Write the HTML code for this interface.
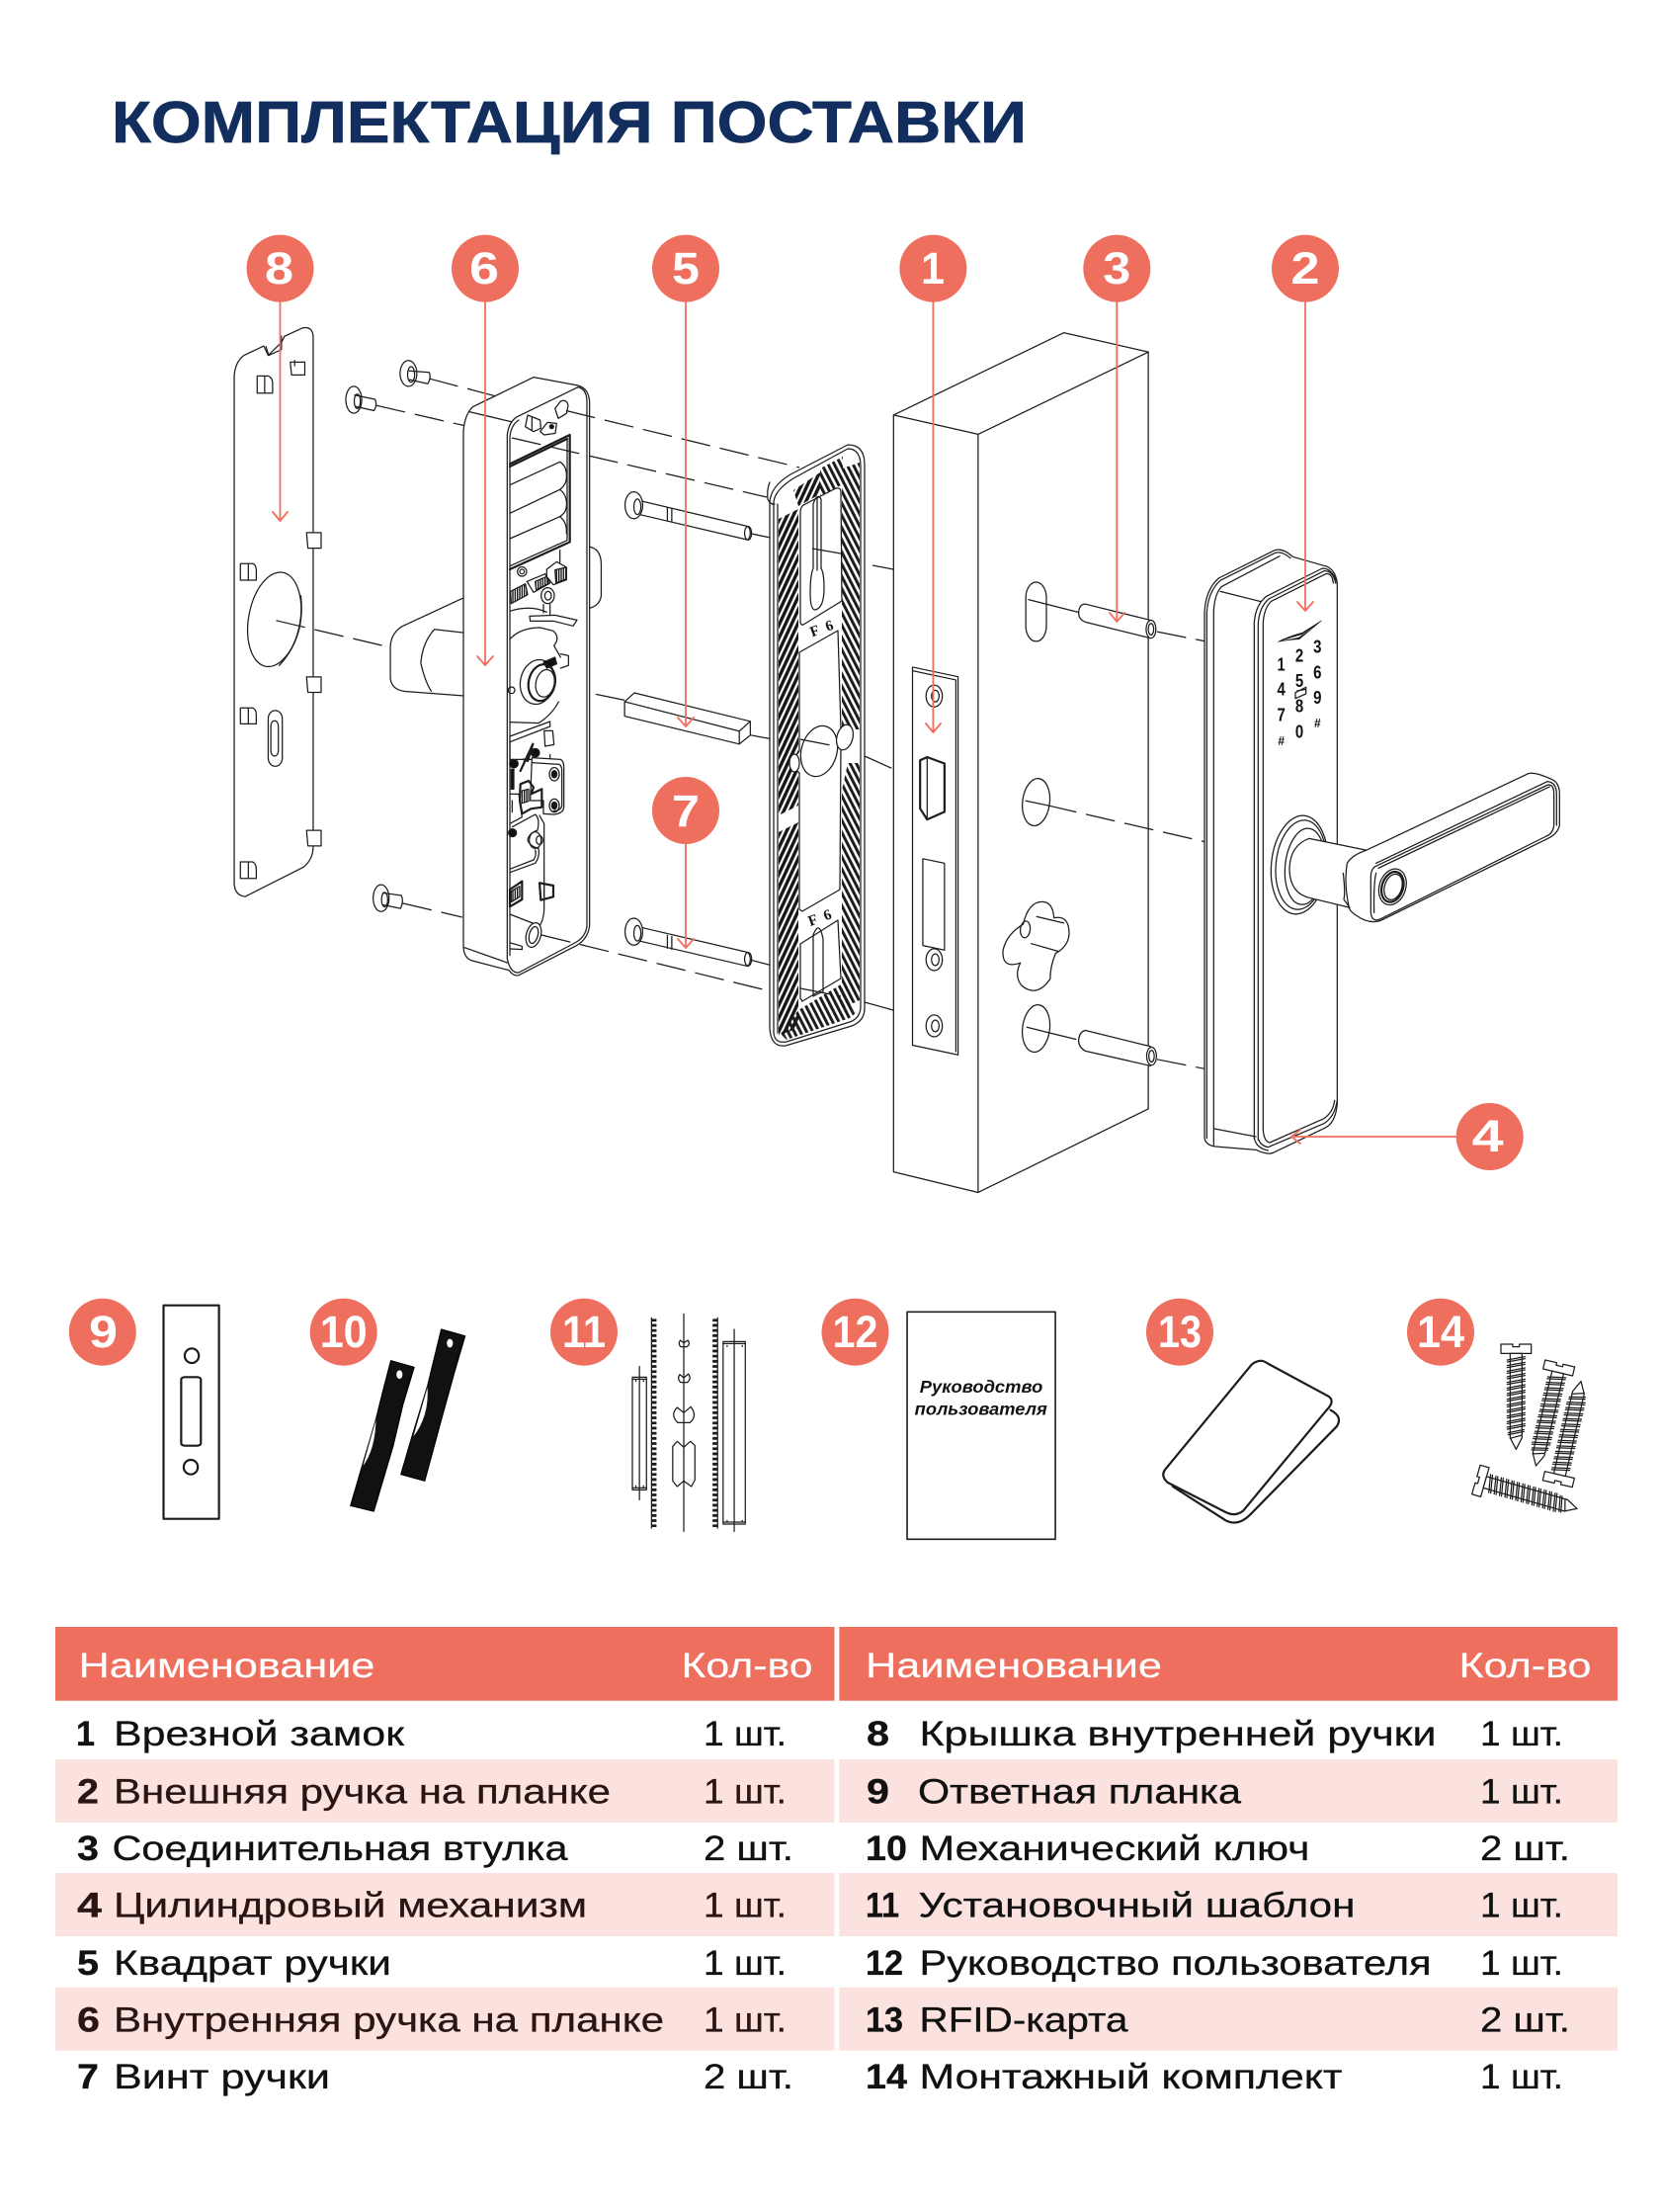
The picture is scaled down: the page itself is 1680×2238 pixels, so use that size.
<!DOCTYPE html>
<html lang="ru">
<head>
<meta charset="utf-8">
<title>Комплектация поставки</title>
<style>
html,body{margin:0;padding:0;background:#fff}
svg{display:block}
text{font-family:"Liberation Sans",sans-serif}
.l,.l *{fill:none;stroke:#1c1c1c;stroke-width:1.25;vector-effect:non-scaling-stroke;stroke-linejoin:round;stroke-linecap:round}
.w{fill:#fff !important}
.k{fill:#111 !important}
.t{stroke-width:2.2 !important}
.d{stroke-dasharray:30 10;stroke-linecap:butt !important}
.r{fill:none;stroke:#ef6f5e;stroke-width:1.8;stroke-linecap:round;stroke-linejoin:round}
.c{fill:#ef6f5e}
.n{fill:#fff;font-weight:700;font-size:45px;text-anchor:middle}
.tt{font-size:35px;fill:#111}
.tt text{stroke:#111;stroke-width:.3}
.tt .p{fill:#2a1512;stroke:#2a1512}
.b{font-weight:700}
.h{font-size:35px;fill:#fff;stroke:#fff;stroke-width:.2}
</style>
</head>
<body>
<svg xmlns="http://www.w3.org/2000/svg" width="1680" height="2238" viewBox="0 0 1680 2238">
<defs>
<pattern id="hl" width="5.6" height="12" patternUnits="userSpaceOnUse" patternTransform="rotate(25)"><rect width="3.4" height="12" fill="#161616"/></pattern>
<pattern id="hr" width="5.6" height="12" patternUnits="userSpaceOnUse" patternTransform="rotate(-27)"><rect width="3" height="12" fill="#1c1c1c"/></pattern>
<pattern id="hs" width="7" height="30" patternUnits="userSpaceOnUse"><rect width="4" height="30" fill="#111"/></pattern>
<g id="screw" class="l">
<path d="M-46,-14 H-10 V-6 H10 V-14 H46 V14 H-46 Z" class="w"/>
<path d="M-18,14 V270 L0,305 L18,270 V14 Z" class="w"/>
<path d="M-27,34 L27,24 M-27,40 L27,30 M-27,51 L27,41 M-27,57 L27,47 M-27,68 L27,58 M-27,74 L27,64 M-27,85 L27,75 M-27,91 L27,81 M-27,102 L27,92 M-27,108 L27,98 M-27,119 L27,109 M-27,125 L27,115 M-27,136 L27,126 M-27,142 L27,132 M-27,153 L27,143 M-27,159 L27,149 M-27,170 L27,160 M-27,176 L27,166 M-27,187 L27,177 M-27,193 L27,183 M-27,204 L27,194 M-27,210 L27,200 M-27,221 L27,211 M-27,227 L27,217 M-27,238 L27,228 M-27,244 L27,234 M-24,255 L24,245 M-24,261 L24,251 M-18,272 L18,262"/>
</g>
</defs>

<!-- Title -->
<text x="113" y="144" font-size="59" font-weight="700" fill="#122e5e" stroke="#122e5e" stroke-width=".7" textLength="926" lengthAdjust="spacingAndGlyphs">КОМПЛЕКТАЦИЯ ПОСТАВКИ</text>

<!-- Left part of the drawing, zoom-1 coordinates -->
<g class="l" transform="translate(200 200) scale(.4464 .523)">
  <!-- cover plate -->
  <path class="w" d="M150,287 L105,305 Q85,318 83,345 L83,1328 Q85,1350 108,1352 L240,1295 Q262,1280 262,1255 L262,268 Q260,248 238,252 L197,268 L190,280 L160,305 Z"/>
  <path d="M155,288 L161,305 L190,294 L190,268"/>
  <path d="M135,345 H160 Q170,348 170,360 V378 H135 Z M152,345 V378"/>
  <path d="M210,318 L243,318 V343 H213 Z M220,315 V325"/>
  <path class="w" d="M247,648 H280 V678 H250 Z"/><path class="w" d="M247,927 H280 V957 H250 Z"/><path class="w" d="M247,1224 H280 V1254 H250 Z"/>
  <path d="M97,708 H125 Q133,710 133,722 V740 H97 Z M115,708 V740"/>
  <path d="M97,987 H125 Q133,990 133,1000 V1018 H97 Z M115,987 V1018"/>
  <path d="M97,1285 H125 Q133,1288 133,1300 V1317 H97 Z M115,1285 V1317"/>
  <ellipse cx="174" cy="816" rx="58" ry="93" transform="rotate(14 174 816)"/>
  <path d="M234,770 Q245,850 185,905"/>
  <rect x="160" y="992" width="32" height="108" rx="16" ry="16"/>
  <rect x="166" y="1012" width="17" height="68" rx="8" ry="10"/>
  <!-- screws -->
  <path class="d" d="M525,350 L680,385"/>
  <path class="d" d="M405,402 L610,442"/>
  <path class="d" d="M178,818 L437,870"/>
  <path class="d" d="M465,1365 L600,1392"/>
  <path d="M480,335 L525,338 Q530,347 522,360 L480,352"/><ellipse cx="478" cy="340" rx="19" ry="25"/><ellipse cx="484" cy="342" rx="8" ry="15"/>
  <path d="M356,382 L402,390 Q408,400 400,412 L358,404"/><ellipse cx="354" cy="391" rx="18" ry="26"/><ellipse cx="362" cy="394" rx="7" ry="14"/>
  <path d="M420,1345 L462,1350 Q468,1362 460,1375 L420,1368"/><ellipse cx="416" cy="1355" rx="18" ry="26"/><ellipse cx="424" cy="1358" rx="7" ry="14"/>
  <!-- inner handle -->
  <path class="w" d="M608,772 L462,830 Q437,845 437,870 L437,930 Q440,952 470,955 L608,964 Z"/>
  <path d="M608,842 L537,835 Q510,860 506,900 Q515,935 530,955"/>
  <path class="w" d="M885,675 Q915,678 915,710 L915,770 Q912,790 885,795 Z"/>
  <!-- long bolts -->
  <path class="d" d="M1255,650 L1300,658"/>
  <path class="d" d="M1255,1475 L1300,1485"/>
  <path class="d" d="M1255,1040 L1300,1047"/>
  <path class="d" d="M815,945 L968,972"/>
  <path class="w" d="M997,585 L1248,636 Q1258,648 1248,662 L997,612 Z"/><ellipse cx="1248" cy="649" rx="8" ry="13"/>
  <ellipse cx="989" cy="595" rx="20" ry="26" class="w"/><ellipse cx="997" cy="598" rx="8" ry="15"/><path d="M1065,600 V625 M1075,602 V627"/>
  <path class="w" d="M997,1410 L1248,1460 Q1258,1473 1248,1487 L997,1437 Z"/><ellipse cx="1248" cy="1473" rx="8" ry="13"/>
  <ellipse cx="989" cy="1420" rx="20" ry="26" class="w"/><ellipse cx="997" cy="1423" rx="8" ry="15"/><path d="M1065,1427 V1452 M1075,1429 V1454"/>
  <!-- square -->
  <path class="w" d="M968,975 L990,958 L1253,1013 V1040 L1228,1057 L968,1003 Z"/>
  <path d="M968,975 L1228,1032 L1253,1013 M1228,1032 V1057"/>
</g>

<!-- Module, zoom-7/8 coordinates -->
<g class="l" transform="translate(460 370) scale(.33333)">
  <path class="w" d="M27,200 Q30,150 55,125 L240,35 L375,60 Q408,70 410,110 L410,1700 Q405,1740 370,1760 L195,1850 Q180,1855 165,1835 L50,1805 Q27,1795 27,1760 Z"/>
  <path d="M45,140 L172,170 M27,1765 L160,1812"/>
  <path d="M160,1800 L160,210 Q165,170 190,155 L375,65 Q402,72 402,110 L402,1700 Q398,1735 365,1752 L195,1842 Q170,1845 160,1800"/>
  <path d="M168,1790 V215 Q172,180 195,165"/>
  <!-- top fittings -->
  <path d="M322,108 Q340,100 345,120 L340,145 L315,160 L305,130 Z"/>
  <path d="M222,150 L260,165 L262,190 L240,200 L215,185 Z M235,155 V195"/>
  <path d="M260,200 L282,172 L310,175 L306,205 L272,210 Z"/>
  <circle cx="295" cy="185" r="6" class="k"/>
  <!-- batteries -->
  <path class="t" d="M168,298 L350,210 V535 L168,618"/>
  <path class="t" d="M168,306 L342,222"/>
  <path d="M342,222 V530 L168,608"/>
  <path d="M168,362 L320,292 M168,448 L320,376 M168,525 L320,458"/>
  <path d="M320,292 Q342,305 340,340 Q340,360 320,376 Q342,392 340,425 Q340,445 320,458 Q342,475 340,510"/>
  <!-- board -->
  <circle cx="205" cy="625" r="14"/><circle cx="205" cy="625" r="7"/>
  <path d="M320,560 V600"/>
  <path class="w" d="M280,618 L310,595 L340,612 V650 L300,665 L280,640 Z"/>
  <path style="fill:url(#hs)" d="M305,620 L338,612 V648 L308,660 Z"/>
  <path class="w" d="M220,655 L275,632 L290,660 L240,688 Z"/>
  <path style="fill:url(#hs)" d="M245,655 L280,640 L285,662 L248,680 Z"/>
  <path style="fill:url(#hs)" d="M170,685 L215,662 L222,695 L172,722 Z"/>
  <ellipse cx="283" cy="698" rx="20" ry="24"/><ellipse cx="284" cy="698" rx="10" ry="13"/>
  <path d="M270,725 V750 M290,725 V755"/>
  <!-- disc and spring -->
  <path d="M168,745 Q230,725 280,748"/>
  <path class="w" d="M228,760 L305,757 L372,772 L360,790 L300,775 L230,775 Z"/>
  <path d="M168,830 Q200,795 260,795 L300,805 Q322,825 302,850 L322,885"/>
  <path d="M322,875 L346,880 V910 L322,918"/>
  <path d="M316,1020 Q295,1060 255,1085 L170,1082"/>
  <ellipse cx="252" cy="960" rx="52" ry="68" transform="rotate(12 252 960)"/>
  <ellipse cx="265" cy="962" rx="40" ry="56" class="t" transform="rotate(12 265 962)"/>
  <ellipse cx="275" cy="964" rx="28" ry="42" transform="rotate(12 275 964)"/>
  <path class="k" d="M270,900 L305,885 L310,905 L280,918 Z"/>
  <circle cx="173" cy="985" r="10"/>
  <!-- lower part -->
  <path class="w" d="M168,1125 L290,1080 V1095 L168,1142 Z"/>
  <path d="M272,1108 H298 L302,1150 L275,1155 Z"/>
  <path d="M168,1142 V1195 L290,1195 V1180"/>
  <path class="t" d="M200,1230 L238,1148 L222,1200 L210,1195"/>
  <circle cx="245" cy="1175" r="13" class="k"/>
  <circle cx="180" cy="1208" r="13" class="k"/>
  <path class="k" d="M172,1225 H180 V1285 H172 Z"/>
  <path class="w" d="M235,1190 L322,1195 Q332,1200 332,1220 V1340 Q330,1360 300,1362 L270,1360 V1320 L230,1320 Z"/>
  <path d="M235,1205 L318,1210 Q326,1215 326,1230 V1335 Q324,1350 300,1352"/>
  <ellipse cx="303" cy="1240" rx="15" ry="20"/><ellipse cx="303" cy="1240" rx="8" ry="11" class="k"/>
  <ellipse cx="303" cy="1335" rx="15" ry="20"/><ellipse cx="303" cy="1335" rx="8" ry="11" class="k"/>
  <path class="t" d="M200,1270 L225,1260 L240,1280 L232,1300 L265,1285 V1340 L232,1345 L205,1360 L198,1320 Z"/>
  <path style="fill:url(#hs)" d="M205,1290 L225,1285 V1322 L205,1328 Z"/>
  <path d="M168,1300 H195 L205,1370 L168,1390 M175,1320 V1355"/>
  <circle cx="176" cy="1418" r="12" class="k"/>
  <path d="M175,1400 L245,1362 Q260,1375 252,1410 Q225,1420 222,1440 Q230,1460 255,1465 Q260,1490 245,1510 L168,1538 M168,1528 L240,1500 Q250,1485 245,1470"/>
  <path d="M258,1365 L272,1390 V1650 Q270,1685 258,1700"/>
  <ellipse cx="245" cy="1440" rx="18" ry="25"/><ellipse cx="258" cy="1440" rx="10" ry="13"/>
  <path class="t" d="M168,1590 L205,1565 V1620 L168,1642 Z"/><path style="fill:url(#hs)" d="M172,1595 L198,1580 V1612 L172,1628 Z"/>
  <path class="t" d="M258,1570 L300,1578 V1612 L262,1622 Z"/><path d="M272,1575 V1620"/>
  <path d="M168,1665 L245,1695"/>
  <ellipse cx="240" cy="1728" rx="22" ry="38" transform="rotate(15 240 1728)" class="w"/><ellipse cx="240" cy="1728" rx="13" ry="26" transform="rotate(15 240 1728)"/>
  <path d="M170,1752 L205,1762 V1772 L170,1770"/>
</g>

<!-- Mounting plate in real coordinates -->
<g class="l">
  <path class="d" d="M573,415.5 L809,473"/>
  <path class="d" d="M518,443 L776,503"/>
  <path class="d" d="M548,946 L780,1003"/>
  <path class="w" d="M858,450 Q875,450 875,470 L875,1020 Q875,1033 862,1038 L795,1058 Q780,1060 779,1040 L779,508 Q780,492 800,480 Z"/>
  <path d="M783,1045 V508 Q784,496 803,484 L858,454 Q871,454 871,472 V1018 Q871,1030 860,1034 L796,1054 Q784,1056 783,1045"/>
  <path d="M787,1045 V510"/>
  <path d="M779,488 Q776,495 777,505 Q780,511 784,510"/>
  <polygon points="788,525 808,515 808,815 788,825" style="fill:url(#hl);stroke:none"/>
  <polygon points="788,842 808,832 808,1040 788,1048" style="fill:url(#hl);stroke:none"/>
  <polygon points="852,474 870,468 870,738 852,738" style="fill:url(#hr);stroke:none"/>
  <polygon points="858,772 870,772 870,1012 852,1020 852,800" style="fill:url(#hr);stroke:none"/>
  <polygon points="803,496 830,478 830,500 808,512" style="fill:url(#hl);stroke:none"/>
  <polygon points="830,474 853,462 853,490 830,502" style="fill:url(#hr);stroke:none"/>
  <polygon points="808,1022 851,996 866,1025 860,1030 796,1052 790,1046" style="fill:url(#hr);stroke:none"/>
  <path class="w" d="M810,518 Q810,512 815,510 L846,494 Q851,493 851,498 L852,608 L813,632 Q810,633 810,628 Z"/>
  <path class="w" d="M809,660 L848,638 L851,738 Q845,742 851,752 L850,900 L812,922 L809,920 L809,782 Q798,773 809,760 Z"/>
  <path class="w" d="M810,955 L848,931 L851,990 L812,1013 L810,1010 Z"/>
  <path d="M823,510 Q827,498 831,505 V575 Q834,580 834,595 Q834,615 825,617 Q820,617 820,600 Q820,582 823,575 Z"/>
  <path d="M827,503 V577"/>
  <path d="M823,946 Q829,930 833,950 V1003 L823,1008 Z"/>
  <ellipse cx="829" cy="760" rx="18" ry="26" transform="rotate(15 829 760)"/>
  <ellipse cx="855" cy="746" rx="8" ry="13" class="w" transform="rotate(15 855 746)"/>
  <ellipse cx="804" cy="772" rx="5" ry="9" class="w"/>
  <path class="d" d="M822,555 L851,560 M883,572 L904,576"/>
  <path class="d" d="M810,748 L846,755 M875,765 L904,778"/>
  <path class="d" d="M810,1000 L851,1008 M875,1014 L904,1022"/>
</g>
<text x="820" y="642" font-size="15" font-weight="700" fill="#111" style="font-family:'Liberation Serif',serif" transform="rotate(-20 828 638)" textLength="24">F 6</text>
<text x="818" y="934" font-size="15" font-weight="700" fill="#111" style="font-family:'Liberation Serif',serif" transform="rotate(-20 828 930)" textLength="24">F 6</text>

<!-- Door, zoom-2 coordinates -->
<g class="l" transform="translate(720 200) scale(.54855 .6506)">
  <path class="w" d="M336,338 L650,210 L806,240 V1417 L492,1547 L336,1515 Z"/>
  <path d="M336,338 L492,368 L806,240 M492,368 V1547"/>
  <!-- strike -->
  <path class="w" d="M371,730 L455,745 V1333 L371,1318 Z"/>
  <path d="M373,736 L451,750 V1328"/>
  <ellipse cx="411" cy="775" rx="15" ry="17"/><ellipse cx="413" cy="775" rx="7" ry="9"/>
  <ellipse cx="411" cy="1185" rx="15" ry="17"/><ellipse cx="413" cy="1185" rx="7" ry="9"/>
  <ellipse cx="411" cy="1288" rx="15" ry="17"/><ellipse cx="413" cy="1288" rx="7" ry="9"/>
  <path class="t" d="M385,875 L398,870 L430,880 V955 L398,967 L385,950 Z"/>
  <path d="M398,872 V967"/>
  <path d="M390,1028 L430,1035 V1170 L390,1163 Z"/>
  <!-- door holes -->
  <rect x="580" y="598" width="38" height="92" rx="19" ry="24"/>
  <ellipse cx="599" cy="940" rx="25" ry="37" transform="rotate(10 599 940)"/>
  <ellipse cx="599" cy="1292" rx="25" ry="37" transform="rotate(10 599 1292)"/>
  <path d="M585,625 L678,645 M580,938 L620,945 M582,1290 L620,1298"/>
  <path d="M575,1130 Q585,1095 610,1095 Q630,1095 632,1120 Q660,1115 660,1145 Q658,1165 635,1175 Q625,1195 625,1215 Q600,1245 572,1225 Q558,1210 570,1190 Q535,1200 538,1170 Q545,1145 575,1130 Z"/>
  <path d="M600,1118 L650,1128 M590,1160 L640,1172"/>
  <ellipse cx="579" cy="1138" rx="9" ry="13" transform="rotate(10 579 1138)"/>
  <path class="d" d="M620,945 L912,1002"/>
  <path class="d" d="M822,675 L912,690"/>
  <path class="d" d="M620,1298 L678,1310"/>
  <path class="d" d="M822,1340 L912,1355"/>
  <!-- bushings -->
  <path class="w" d="M690,632 L810,657 Q822,670 810,685 L690,660 Q675,655 678,642 Q680,632 690,632 Z"/>
  <ellipse cx="811" cy="671" rx="9" ry="14" class="w"/><ellipse cx="811" cy="671" rx="5" ry="9"/>
  <path class="w" d="M690,1295 L810,1320 Q822,1333 810,1350 L690,1327 Q675,1320 678,1307 Q680,1297 690,1295 Z"/>
  <ellipse cx="812" cy="1335" rx="9" ry="14" class="w"/><ellipse cx="812" cy="1335" rx="5" ry="9"/>
</g>

<!-- Outer lock, zoom-10 coordinates -->
<g class="l" transform="translate(1200 540) scale(.33333)">
  <path class="w" d="M57,1830 L57,240 Q60,170 100,135 L270,50 Q295,42 325,70 L430,100 Q458,115 460,155 L460,1730 Q455,1790 420,1805 L263,1880 Q245,1885 213,1870 L90,1860 Q57,1855 57,1830 Z"/>
  <path d="M64,1835 V240 Q68,175 105,142 L272,58 Q292,52 318,74"/>
  <path d="M85,1855 V235 Q88,180 110,160 L285,68"/>
  <path d="M105,175 L228,206 M87,1806 L213,1830"/>
  <path d="M208,1835 V270 Q212,215 245,190 L415,105 Q445,105 460,150"/>
  <path d="M220,1840 V272 Q224,222 252,198 L420,113 Q448,112 455,150"/>
  <path d="M235,1810 V270 Q238,225 260,205 L425,122 Q445,118 448,150"/>
  <path d="M208,1835 Q215,1865 250,1872 M222,1840 Q228,1858 250,1862 L420,1790 Q452,1770 460,1720 M235,1810 Q238,1845 255,1848 L420,1775 Q448,1755 452,1720"/>
  <!-- logo -->
  <path class="k" style="stroke-width:.6" d="M280,328 Q310,312 355,300 L412,264 L345,320 Q310,322 280,328 Z"/>
  <path class="w" style="stroke:none" d="M292,325 Q320,315 353,306 L392,282 L342,315 Q315,320 292,325 Z"/>
  <!-- card icon -->
  <path d="M333,482 L365,466 V486 L333,500 Z M338,477 L365,472"/>
  <!-- rosette -->
  <ellipse cx="345" cy="1005" rx="85" ry="150" class="w" transform="rotate(6 345 1005)"/>
  <ellipse cx="350" cy="1005" rx="76" ry="136" transform="rotate(6 350 1005)"/>
  <ellipse cx="362" cy="1010" rx="60" ry="116" transform="rotate(6 362 1010)"/>
  <!-- shaft -->
  <path class="w" d="M375,925 L555,962 L520,1140 L375,1105 Q315,1090 315,1015 Q318,945 375,925 Z"/>
  <!-- lever -->
  <path class="w" d="M490,1000 Q505,975 550,960 L1040,728 Q1060,722 1110,745 Q1135,755 1135,790 L1135,885 Q1130,910 1100,925 L590,1175 Q555,1185 520,1160 Q495,1145 495,1130 Q480,1060 490,1000 Z"/>
  <path d="M478,1030 Q485,1090 480,1110 L498,1135"/>
  <path d="M578,1000 L1098,752 Q1126,755 1126,790 V885"/>
  <path d="M575,1010 L1100,762 Q1118,760 1118,790 V885 Q1115,910 1095,918 L590,1170 Q565,1180 562,1150 V1040 Q562,1020 575,1010 Z"/>
  <path d="M585,1015 L1105,768 M578,1030 Q570,1060 572,1150"/>
  <ellipse cx="628" cy="1072" rx="40" ry="56" transform="rotate(18 628 1072)"/>
  <ellipse cx="628" cy="1072" rx="32" ry="47" class="t" transform="rotate(18 628 1072)"/>
  <ellipse cx="630" cy="1072" rx="26" ry="40" transform="rotate(18 630 1072)"/>
</g>
<g font-weight="700" fill="#111" text-anchor="middle" transform="translate(1200 540) scale(.33333)" style="font-size:56px">
  <text x="290" y="416" textLength="24" lengthAdjust="spacingAndGlyphs">1</text>
  <text x="345" y="389" textLength="25" lengthAdjust="spacingAndGlyphs">2</text>
  <text x="400" y="362" textLength="25" lengthAdjust="spacingAndGlyphs">3</text>
  <text x="290" y="491" textLength="25" lengthAdjust="spacingAndGlyphs">4</text>
  <text x="345" y="465" textLength="25" lengthAdjust="spacingAndGlyphs">5</text>
  <text x="400" y="439" textLength="25" lengthAdjust="spacingAndGlyphs">6</text>
  <text x="290" y="569" textLength="25" lengthAdjust="spacingAndGlyphs">7</text>
  <text x="345" y="541" textLength="25" lengthAdjust="spacingAndGlyphs">8</text>
  <text x="400" y="516" textLength="25" lengthAdjust="spacingAndGlyphs">9</text>
  <text x="290" y="642" textLength="20" lengthAdjust="spacingAndGlyphs" style="font-size:40px">#</text>
  <text x="345" y="619" textLength="25" lengthAdjust="spacingAndGlyphs">0</text>
  <text x="400" y="588" textLength="20" lengthAdjust="spacingAndGlyphs" style="font-size:40px">#</text>
</g>

<!-- Red callouts -->
<path class="r" d="M283.5,300 V527 M276,518 L283.5,527 L291,518"/>
<path class="r" d="M491,300 V673 M483,664 L491,673 L499,664"/>
<path class="r" d="M694,300 V735 M686,726 L694,735 L702,726"/>
<path class="r" d="M694,850 V959 M686,950 L694,959 L702,950"/>
<path class="r" d="M944.4,300 V741 M937,732 L944.4,741 L952,732"/>
<path class="r" d="M1130.3,300 V629 M1123,620 L1130.3,629 L1138,620"/>
<path class="r" d="M1321,300 V618 M1313,609 L1321,618 L1329,609"/>
<path class="r" d="M1480,1150 H1307 M1316,1143 L1307,1150 L1316,1157"/>

<g>
<circle class="c" cx="283.5" cy="271.6" r="34"/><text class="n" x="282.5" y="287" textLength="29" lengthAdjust="spacingAndGlyphs">8</text>
<circle class="c" cx="491" cy="271.6" r="34"/><text class="n" x="490" y="287" textLength="30" lengthAdjust="spacingAndGlyphs">6</text>
<circle class="c" cx="694" cy="271.6" r="34"/><text class="n" x="694" y="287" textLength="28" lengthAdjust="spacingAndGlyphs">5</text>
<circle class="c" cx="694" cy="820" r="34"/><text class="n" x="694" y="836" textLength="28" lengthAdjust="spacingAndGlyphs">7</text>
<circle class="c" cx="944.4" cy="271.6" r="34"/><text class="n" x="944" y="287" textLength="24" lengthAdjust="spacingAndGlyphs">1</text>
<circle class="c" cx="1130.3" cy="271.6" r="34"/><text class="n" x="1130.3" y="287" textLength="28" lengthAdjust="spacingAndGlyphs">3</text>
<circle class="c" cx="1321" cy="271.6" r="34"/><text class="n" x="1321" y="287" textLength="29" lengthAdjust="spacingAndGlyphs">2</text>
<circle class="c" cx="1507.7" cy="1150" r="34"/><text class="n" x="1505.7" y="1165" textLength="32" lengthAdjust="spacingAndGlyphs">4</text>
<circle class="c" cx="103.8" cy="1347.7" r="34"/><text class="n" x="104.5" y="1363" textLength="29" lengthAdjust="spacingAndGlyphs">9</text>
<circle class="c" cx="347.7" cy="1347.7" r="34"/><text class="n" x="347.7" y="1363" textLength="48" lengthAdjust="spacingAndGlyphs">10</text>
<circle class="c" cx="591" cy="1347.7" r="34"/><text class="n" x="591" y="1363" textLength="44" lengthAdjust="spacingAndGlyphs">11</text>
<circle class="c" cx="865.5" cy="1347.7" r="34"/><text class="n" x="865.5" y="1363" textLength="46" lengthAdjust="spacingAndGlyphs">12</text>
<circle class="c" cx="1194" cy="1347.7" r="34"/><text class="n" x="1194" y="1363" textLength="44" lengthAdjust="spacingAndGlyphs">13</text>
<circle class="c" cx="1458" cy="1347.7" r="34"/><text class="n" x="1458" y="1363" textLength="48" lengthAdjust="spacingAndGlyphs">14</text>
</g>

<!-- Bottom row items: zoom-3 coordinates -->
<g class="l" transform="translate(40 1280) scale(.5102 .33333)">
  <rect x="246" y="122" width="110" height="648" class="t"/>
  <ellipse cx="302" cy="275" rx="14" ry="22" class="t"/>
  <ellipse cx="300" cy="613" rx="14" ry="22" class="t"/>
  <rect x="281" y="340" width="39" height="208" rx="7" ry="7" class="t"/>
  <!-- keys -->
  <path class="k" style="stroke:#000" d="M697,290 L743,310 L721,422 L702,545 L663,747 L617,730 L640,610 L668,465 L680,390 Z"/>
  <ellipse cx="714" cy="332" rx="6" ry="13" class="w" style="stroke:none"/>
  <path class="w" style="stroke-width:.8" d="M668,462 L640,615 Q668,560 668,462 Z"/>
  <path class="k" style="stroke:#000" d="M797,195 L844,215 L822,330 L795,480 L764,655 L717,635 L738,525 L770,365 Z"/>
  <ellipse cx="814" cy="237" rx="6" ry="13" class="w" style="stroke:none"/>
  <path class="w" style="stroke-width:.8" d="M770,365 L740,525 Q775,460 770,365 Z"/>
  <!-- template -->
  <rect x="1176" y="340" width="28" height="342"/>
  <path d="M1190,308 V712 M1176,346 H1204 M1176,676 H1204"/>
  <path d="M1214,160 V798"/>
  <path style="stroke-width:5;stroke-dasharray:2.8 2.4;stroke-linecap:butt" d="M1219,163 V795"/>
  <path d="M1278,148 V808"/>
  <path d="M1271,228 L1278,236 L1286,228 Q1292,240 1284,248 H1272 Q1266,240 1271,228 Z"/>
  <path d="M1270,332 L1278,342 L1287,330 Q1294,345 1285,356 H1272 Q1264,345 1270,332 Z"/>
  <path d="M1265,432 L1278,448 L1292,430 Q1306,458 1290,478 H1266 Q1250,455 1265,432 Z"/>
  <path d="M1265,535 L1278,553 L1291,535 L1300,547 V652 L1293,672 L1278,655 L1265,672 L1256,655 V550 Z"/>
  <path d="M1345,160 V798"/>
  <path style="stroke-width:5;stroke-dasharray:2.8 2.4;stroke-linecap:butt" d="M1340,163 V795"/>
  <rect x="1356" y="232" width="44" height="554"/>
  <path d="M1378,195 V808 M1356,238 H1400 M1356,780 H1400"/>
  <path class="k" d="M1183,350 v3 M1198,350 v3 M1183,670 v3 M1198,670 v3 M1364,244 v3 M1394,244 v3 M1364,775 v3 M1394,775 v3"/>
</g>

<!-- Bottom row items: zoom-4 coordinates -->
<g class="l" transform="translate(840 1280) scale(.5102 .33333)">
  <rect x="153" y="142" width="294" height="690" style="stroke-width:1.6"/>
  <path class="t" d="M855,290 Q840,292 832,310 L665,620 Q655,640 670,660 L785,750 Q805,765 820,745 L985,440 Q1005,410 985,395 L870,300 Q860,290 855,290 Z"/>
  <path class="t" d="M993,440 Q1018,460 1005,490 L835,755 Q810,795 785,775 L680,672"/>
</g>
<text x="930.8" y="1409" font-size="17.5" font-weight="700" font-style="italic" fill="#111" textLength="124.5" lengthAdjust="spacingAndGlyphs">Руководство</text>
<text x="925.7" y="1431.5" font-size="17.5" font-weight="700" font-style="italic" fill="#111" textLength="134" lengthAdjust="spacingAndGlyphs">пользователя</text>

<!-- screws -->
<g class="l" transform="translate(1460 1330) scale(.33333)">
  <use href="#screw" transform="translate(223 104)"/>
  <use href="#screw" transform="translate(353 162) rotate(13.2)"/>
  <use href="#screw" transform="translate(352 500) rotate(192.9)"/>
  <use href="#screw" transform="translate(115 505) rotate(-74)"/>
</g>

<!-- Tables -->
<rect x="56" y="1646" width="788.5" height="74.7" fill="#ef6f5e"/>
<rect x="849.4" y="1646" width="787.6" height="74.7" fill="#ef6f5e"/>
<rect x="56" y="1780" width="788.5" height="64" fill="#fbe2df"/>
<rect x="849.4" y="1780" width="787.6" height="64" fill="#fbe2df"/>
<rect x="56" y="1895" width="788.5" height="64" fill="#fbe2df"/>
<rect x="849.4" y="1895" width="787.6" height="64" fill="#fbe2df"/>
<rect x="56" y="2010.7" width="788.5" height="64" fill="#fbe2df"/>
<rect x="849.4" y="2010.7" width="787.6" height="64" fill="#fbe2df"/>

<text class="h" x="79.5" y="1697" textLength="300" lengthAdjust="spacingAndGlyphs">Наименование</text>
<text class="h" x="689.5" y="1697" textLength="133" lengthAdjust="spacingAndGlyphs">Кол-во</text>
<text class="h" x="876" y="1697" textLength="300" lengthAdjust="spacingAndGlyphs">Наименование</text>
<text class="h" x="1476.5" y="1697" textLength="134" lengthAdjust="spacingAndGlyphs">Кол-во</text>

<g class="tt" style="font-size:35px">
<text class="b" x="77" y="1766" textLength="19" lengthAdjust="spacingAndGlyphs">1</text>
<text x="115" y="1766" textLength="294" lengthAdjust="spacingAndGlyphs">Врезной замок</text>
<text x="712" y="1766" textLength="84" lengthAdjust="spacingAndGlyphs">1 шт.</text>

<text class="b p" x="78" y="1824.3" textLength="22" lengthAdjust="spacingAndGlyphs">2</text>
<text class="p" x="115" y="1824.3" textLength="503" lengthAdjust="spacingAndGlyphs">Внешняя ручка на планке</text>
<text class="p" x="712" y="1824.3" textLength="84" lengthAdjust="spacingAndGlyphs">1 шт.</text>

<text class="b" x="78" y="1882" textLength="22" lengthAdjust="spacingAndGlyphs">3</text>
<text x="113.5" y="1882" textLength="461" lengthAdjust="spacingAndGlyphs">Соединительная втулка</text>
<text x="712" y="1882" textLength="91" lengthAdjust="spacingAndGlyphs">2 шт.</text>

<text class="b p" x="78" y="1939.4" textLength="25" lengthAdjust="spacingAndGlyphs">4</text>
<text class="p" x="115" y="1939.4" textLength="479" lengthAdjust="spacingAndGlyphs">Цилиндровый механизм</text>
<text class="p" x="712" y="1939.4" textLength="84" lengthAdjust="spacingAndGlyphs">1 шт.</text>

<text class="b" x="78" y="1998" textLength="22" lengthAdjust="spacingAndGlyphs">5</text>
<text x="115" y="1998" textLength="281" lengthAdjust="spacingAndGlyphs">Квадрат ручки</text>
<text x="712" y="1998" textLength="84" lengthAdjust="spacingAndGlyphs">1 шт.</text>

<text class="b p" x="78" y="2055.4" textLength="23" lengthAdjust="spacingAndGlyphs">6</text>
<text class="p" x="115" y="2055.4" textLength="557" lengthAdjust="spacingAndGlyphs">Внутренняя ручка на планке</text>
<text class="p" x="712" y="2055.4" textLength="84" lengthAdjust="spacingAndGlyphs">1 шт.</text>

<text class="b" x="78" y="2113" textLength="22" lengthAdjust="spacingAndGlyphs">7</text>
<text x="115" y="2113" textLength="219" lengthAdjust="spacingAndGlyphs">Винт ручки</text>
<text x="712" y="2113" textLength="91" lengthAdjust="spacingAndGlyphs">2 шт.</text>

<text class="b" x="877" y="1766" textLength="23" lengthAdjust="spacingAndGlyphs">8</text>
<text x="930.5" y="1766" textLength="523" lengthAdjust="spacingAndGlyphs">Крышка внутренней ручки</text>
<text x="1498" y="1766" textLength="84" lengthAdjust="spacingAndGlyphs">1 шт.</text>

<text class="b" x="877" y="1824.3" textLength="23" lengthAdjust="spacingAndGlyphs">9</text>
<text x="929" y="1824.3" textLength="327" lengthAdjust="spacingAndGlyphs">Ответная планка</text>
<text x="1498" y="1824.3" textLength="84" lengthAdjust="spacingAndGlyphs">1 шт.</text>

<text class="b" x="876" y="1882" textLength="42" lengthAdjust="spacingAndGlyphs">10</text>
<text x="930.5" y="1882" textLength="395" lengthAdjust="spacingAndGlyphs">Механический ключ</text>
<text x="1498" y="1882" textLength="91" lengthAdjust="spacingAndGlyphs">2 шт.</text>

<text class="b" x="876" y="1939.4" textLength="34" lengthAdjust="spacingAndGlyphs">11</text>
<text x="929.5" y="1939.4" textLength="442" lengthAdjust="spacingAndGlyphs">Установочный шаблон</text>
<text x="1498" y="1939.4" textLength="84" lengthAdjust="spacingAndGlyphs">1 шт.</text>

<text class="b" x="876" y="1998" textLength="38" lengthAdjust="spacingAndGlyphs">12</text>
<text x="930.5" y="1998" textLength="518" lengthAdjust="spacingAndGlyphs">Руководство пользователя</text>
<text x="1498" y="1998" textLength="84" lengthAdjust="spacingAndGlyphs">1 шт.</text>

<text class="b" x="876" y="2055.4" textLength="38" lengthAdjust="spacingAndGlyphs">13</text>
<text x="930.5" y="2055.4" textLength="211" lengthAdjust="spacingAndGlyphs">RFID-карта</text>
<text x="1498" y="2055.4" textLength="91" lengthAdjust="spacingAndGlyphs">2 шт.</text>

<text class="b" x="876" y="2113" textLength="42" lengthAdjust="spacingAndGlyphs">14</text>
<text x="930.5" y="2113" textLength="428" lengthAdjust="spacingAndGlyphs">Монтажный комплект</text>
<text x="1498" y="2113" textLength="84" lengthAdjust="spacingAndGlyphs">1 шт.</text>
</g>
</svg>
</body>
</html>
